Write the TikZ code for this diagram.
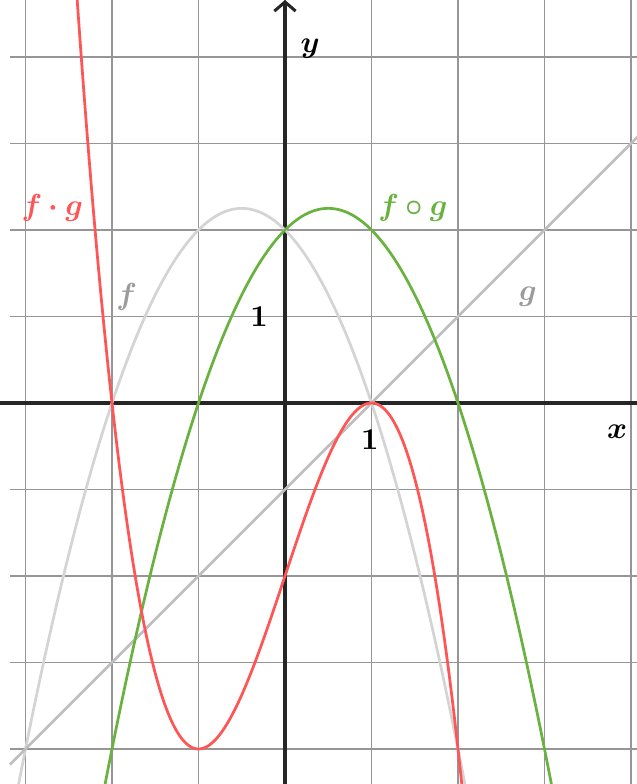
\documentclass[tikz,border=0pt]{standalone}
\usepackage{amsmath,bm}
\usetikzlibrary{arrows.meta}
\definecolor{fgred}{RGB}{255,85,85}
\definecolor{fgreen}{RGB}{106,178,64}
\definecolor{fgray}{RGB}{212,212,212}
\definecolor{ggray}{RGB}{190,190,190}
\definecolor{gridgray}{RGB}{150,150,150}
\definecolor{lblgray}{RGB}{155,155,155}
\tikzset{
  gridline/.style={draw=gridgray, line width=0.5pt},
  axisline/.style={draw=black!85, line width=1pt},
  curve/.style={line width=0.9pt, smooth, samples=200},
  lbl/.style={inner sep=0pt}
}
\begin{document}
\begin{tikzpicture}
\useasboundingbox (-3.295,-4.405) rectangle (4.069,4.659);
\clip (-3.295,-4.405) rectangle (4.069,4.659);
% grid
\foreach \y in {-4,...,4} { \draw[gridline] (-3.18,\y) -- (4.1,\y); }
\foreach \x in {-3,...,4} { \draw[gridline] (\x,-4.5) -- (\x,4.7); }
% axes
\coordinate (xl) at (-3.3,0);
\coordinate (xr) at (4.1,0);
\coordinate (yb) at (0,-4.5);
\coordinate (yt) at (0,4.659);
\draw[axisline] (xl) -- (xr);
\draw[axisline, -{Straight Barb[length=3pt,width=7pt]}] (yb) -- (yt);
% curves
\draw[curve, draw=fgray] plot[domain=-3.15:2.15] (\x,{-\x*\x-\x+2});
\draw[curve, draw=ggray] plot[domain=-3.18:4.1] (\x,{\x-1});
\draw[curve, draw=fgreen] plot[domain=-2.15:3.15] (\x,{-\x*\x+\x+2});
\draw[curve, draw=fgred] plot[domain=-2.43:2.08] (\x,{-(\x+2)*(\x-1)*(\x-1)});
% labels
\node[lbl] (ylab) at (0.29,4.10) {$\bm{y}$};
\node[lbl] (xlab) at (3.84,-0.335) {$\bm{x}$};
\node[lbl] (one1) at (-0.30,1.0) {$\mathbf{1}$};
\node[lbl] (one2) at (0.98,-0.43) {$\mathbf{1}$};
\node[lbl, text=fgred] (lfg) at (-2.69,2.25) {$\bm{f\cdot g}$};
\node[lbl, text=fgreen] (lfog) at (1.48,2.25) {$\bm{f\circ g}$};
\node[lbl, text=lblgray] (lf) at (-1.83,1.23) {$\bm{f}$};
\node[lbl, text=lblgray] (lg) at (2.81,1.23) {$\bm{g}$};
\end{tikzpicture}
\end{document}
